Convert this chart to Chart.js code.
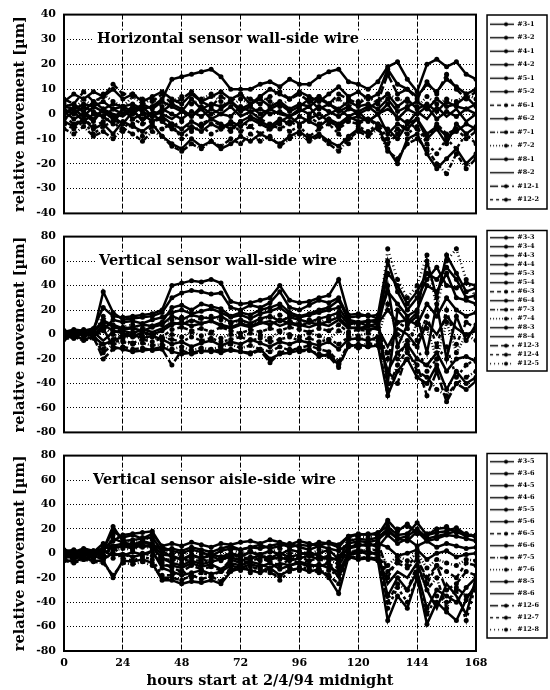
<!DOCTYPE html>
<html>
<head>
<meta charset="utf-8">
<script src="https://cdn.jsdelivr.net/npm/chart.js@4.4.1/dist/chart.umd.min.js"></script>
<style>
  html, body { margin: 0; padding: 0; background: #fff; }
  #wrap { position: relative; width: 550px; height: 690px; overflow: hidden; }
  canvas { position: absolute; left: 0; }
</style>
</head>
<body>
<div id="wrap">
  <canvas id="panelH" width="550" height="228" style="top:0px"></canvas>
  <canvas id="panelV" width="550" height="225" style="top:222px"></canvas>
  <canvas id="panelA" width="550" height="249" style="top:441px"></canvas>
</div>
<script>
// hours after 2/4/94 midnight (one reading every 4 h)
var hours = [0,4,8,12,16,20,24,28,32,36,40,44,48,52,56,60,64,68,72,76,80,84,88,92,96,100,104,108,112,116,120,124,128,132,136,140,144,148,152,156,160,164,168];

// ---- horizontal sensor, wall-side wire
var hLabels = ['#3-1','#3-2','#4-1','#4-2','#5-1','#5-2','#6-1','#6-2','#7-1','#7-2','#8-1','#8-2','#12-1','#12-2'];
var h3_1 = [3,2,4,3,5,2,3,4,2,3,6,14,15,16,17,18,15,10,10,10,12,13,11,14,12,12,15,17,18,13,12,10,13,19,21,14,9,20,22,19,21,16,14];
var h3_2 = [0,2,-1,3,1,-2,2,0,3,-1,1,4,2,-1,3,0,2,5,1,3,0,2,4,1,3,6,2,4,1,3,0,2,5,8,3,6,2,4,1,5,3,2,4];
var h4_1 = [-3,-5,-2,-6,-4,-8,-3,-5,-7,-4,-9,-12,-14,-10,-13,-11,-14,-12,-9,-11,-8,-10,-12,-9,-7,-10,-8,-11,-13,-9,-6,-8,-5,-14,-20,-10,-8,-16,-22,-18,-14,-20,-16];
var h4_2 = [5,8,6,9,7,10,6,8,5,7,9,6,4,8,5,7,9,6,8,4,7,10,8,6,9,7,5,8,11,7,9,6,8,18,12,10,7,12,9,14,11,8,10];
var h5_1 = [1,-2,0,-3,2,-1,-4,1,-2,0,-3,-6,-8,-5,-7,-4,-6,-3,-5,-2,-4,-6,-3,-1,-4,-2,0,-3,-5,-2,-1,-3,0,-8,-4,-6,-2,-10,-6,-12,-4,-8,-5];
var h5_2 = [3,4,1,5,2,4,3,1,4,2,5,3,1,6,2,4,3,5,2,4,6,3,5,2,4,3,6,4,2,5,3,4,2,6,1,3,5,2,6,3,4,7,3];
var h6_1 = [-1,-4,-2,-5,-3,-1,-6,-2,-4,-3,-2,-5,-3,-6,-4,-2,-5,-7,-3,-5,-2,-4,-6,-3,-5,-1,-4,-2,-6,-3,-4,-2,-5,-12,-8,-3,-6,-10,-4,-8,-6,-10,-7];
var h6_2 = [2,0,3,1,-1,2,0,3,1,-1,2,0,-2,1,-1,2,0,-1,3,1,2,0,1,-1,2,0,3,1,-1,2,1,3,0,4,-2,2,0,3,-2,1,-1,2,0];
var h7_1 = [-6,-8,-5,-9,-7,-10,-6,-8,-11,-7,-9,-13,-15,-12,-14,-11,-13,-10,-12,-8,-11,-9,-13,-10,-8,-11,-9,-12,-15,-10,-7,-9,-6,-15,-18,-12,-10,-14,-20,-24,-16,-22,-18];
var h7_2 = [4,2,6,3,8,5,3,7,4,6,3,5,7,4,6,8,5,3,6,4,7,5,3,6,8,5,7,4,6,3,5,7,4,8,6,5,3,7,4,6,5,8,6];
var h8_1 = [-2,1,-3,0,-1,-4,2,-2,0,-3,-1,-4,-6,-3,-5,-2,-4,-6,-3,-1,-3,-5,-2,-4,-1,-3,-5,-2,-4,-1,-3,-2,-4,-6,-10,-4,-2,-8,-5,-9,-7,-4,-6];
var h8_2 = [0,3,1,-2,2,0,-1,2,-3,1,0,-2,1,-1,2,-2,0,3,-1,1,-2,2,0,-1,1,3,-2,0,2,-1,1,-3,0,2,-1,-4,1,-2,3,-1,2,-3,0];
var h12_1 = [6,4,9,5,7,12,8,8,6,5,8,4,6,9,5,3,7,5,8,6,4,7,9,6,8,5,7,4,8,6,4,7,5,16,8,10,6,13,8,16,10,6,9];
var h12_2 = [-4,-6,-3,-8,-5,-3,-7,-4,-9,-5,-6,-4,-10,-7,-5,-8,-6,-4,-7,-5,-8,-6,-4,-7,-5,-9,-6,-4,-8,-12,-5,-7,-4,-10,-6,-8,-5,-12,-16,-10,-14,-8,-12];

// ---- vertical sensor, wall-side wire
var vLabels = ['#3-3','#3-4','#4-3','#4-4','#5-3','#5-4','#6-3','#6-4','#7-3','#7-4','#8-3','#8-4','#12-3','#12-4','#12-5'];
var v3_3 = [2,4,3,5,22,15,14,15,16,17,20,40,42,44,43,45,42,27,25,26,28,30,40,28,26,27,30,32,45,16,17,15,16,60,35,20,30,45,55,40,38,42,40];
var v3_4 = [-2,0,2,1,35,18,12,13,14,15,18,30,34,36,35,33,34,22,20,24,22,26,35,22,20,24,28,26,30,14,15,16,13,-40,20,10,18,60,30,65,50,35,38];
var v4_3 = [0,-3,1,-1,5,-10,-12,-14,-13,-12,-10,-14,-16,-15,-13,-14,-12,-13,-14,-15,-12,-20,-16,-15,-13,-12,-18,-16,-25,-10,-8,-10,-9,-50,-30,-20,-35,-40,-25,-45,-30,-40,-35];
var v4_4 = [3,1,4,2,10,8,5,6,8,7,10,22,24,20,25,23,21,15,18,16,20,22,25,18,15,17,20,22,28,12,10,11,12,35,25,15,20,40,35,50,30,28,25];
var v5_3 = [-3,-1,-4,-2,-8,-5,-2,0,-3,-1,-4,-8,-6,-10,-7,-5,-9,-6,-8,-4,-7,-10,-6,-8,-5,-7,-9,-6,-12,-4,-3,-5,-2,-30,-15,-8,-20,-25,-15,-30,-20,-18,-22];
var v5_4 = [1,3,0,2,12,6,4,5,3,6,8,15,12,16,14,13,15,10,12,9,13,15,11,14,12,10,13,15,18,8,10,7,9,20,10,12,8,25,15,30,20,15,18];
var v6_3 = [-1,2,-2,0,-12,-4,0,2,-1,1,-2,4,6,3,5,2,6,3,1,4,2,5,3,6,4,2,5,3,8,2,4,3,5,-20,10,5,-5,15,-10,20,-8,10,5];
var v6_4 = [2,0,3,-1,8,3,1,-2,2,0,3,8,10,7,9,11,8,6,9,7,10,8,12,9,7,10,8,11,14,6,5,7,6,40,-10,8,15,-15,25,-20,15,-5,8];
var v7_3 = [-4,-2,-5,-3,-15,-8,-6,-8,-7,-9,-8,-12,-10,-13,-11,-12,-10,-8,-11,-9,-12,-14,-10,-13,-11,-9,-12,-14,-22,-8,-10,-7,-9,-45,-25,-12,-30,-35,-45,-50,-40,-35,-30];
var v7_4 = [0,2,-1,1,6,0,-3,-1,-4,-2,-5,0,-2,2,-1,1,-3,0,-2,1,-1,-3,2,0,-2,1,-1,-4,3,0,-1,1,-2,25,0,-10,10,5,-20,10,-15,0,-5];
var v8_3 = [1,-1,2,0,4,12,10,11,9,12,14,18,20,17,19,21,18,14,16,13,17,19,22,16,14,16,18,20,22,10,9,11,10,50,40,25,35,50,45,55,45,30,32];
var v8_4 = [-2,1,-1,2,-5,2,3,1,4,2,5,10,8,12,9,11,7,5,8,6,9,11,7,10,8,6,9,7,12,5,6,4,5,-10,5,0,-10,10,0,15,5,0,3];
var v12_3 = [3,0,2,-2,-20,-12,-10,-12,-11,-13,-12,-25,-13,-16,-14,-13,-15,-12,-14,-16,-13,-23,-15,-12,-14,-13,-16,-18,-27,-9,-11,-10,-8,-30,-40,-15,-25,-50,-30,-55,-40,-45,-38];
var v12_4 = [-1,-3,0,-2,3,-6,-5,-7,-4,-6,-3,-4,-6,-2,-5,-3,-6,-4,-2,-5,-3,-6,-4,-2,-5,-3,-6,-4,-8,-2,-4,-3,-5,-15,-20,-5,-10,-30,-20,-10,-35,-25,-20];
var v12_5 = [2,-2,1,3,15,3,6,8,5,7,9,12,14,11,13,15,12,9,11,8,12,14,16,11,9,12,10,13,16,9,8,10,7,70,45,30,40,65,20,60,70,45,30];

// ---- vertical sensor, aisle-side wire
var aLabels = ['#3-5','#3-6','#4-5','#4-6','#5-5','#5-6','#6-5','#6-6','#7-5','#7-6','#8-5','#8-6','#12-6','#12-7','#12-8'];
var a3_5 = [-2,0,-3,1,3,10,15,16,17,18,5,2,0,3,1,-2,2,4,3,5,4,6,8,5,7,6,9,8,5,14,15,16,15,27,18,24,16,15,20,21,17,16,13];
var a3_6 = [0,-2,1,-1,3,22,10,11,12,13,2,-3,-5,-2,-4,-1,-3,0,-2,1,-1,2,-1,3,1,-2,0,3,-5,10,12,11,13,20,12,10,18,10,12,15,14,12,10];
var a4_5 = [-5,-7,-4,-6,-6,-20,-6,-7,-5,-8,-22,-22,-25,-23,-24,-22,-25,-15,-12,-14,-16,-12,-18,-14,-12,-15,-13,-20,-33,-3,-5,-4,-6,-55,-35,-45,-20,-58,-40,-48,-55,-38,-25];
var a4_6 = [2,0,3,1,8,5,6,4,7,5,-4,-8,-10,-6,-9,-7,-5,-3,-6,-4,-2,-5,-3,-6,-4,-2,-5,-3,-6,5,7,6,8,5,-2,0,3,-5,0,2,-3,-1,0];
var a5_5 = [-3,-1,-4,-2,-5,0,-2,1,-1,2,-12,-15,-18,-16,-14,-17,-15,-10,-12,-9,-11,-8,-13,-10,-8,-11,-9,-12,-15,0,2,-1,1,-35,-20,-30,-15,-45,-30,-35,-40,-28,-20];
var a5_6 = [1,3,0,2,2,12,9,7,10,8,2,4,2,5,3,1,4,6,3,5,7,4,6,8,5,3,6,4,2,8,10,9,11,18,12,14,20,12,14,16,18,14,15];
var a6_5 = [-1,-3,0,-2,-2,-4,-1,-3,0,-2,-4,-6,-3,-8,-5,-7,-4,-2,-5,-3,-6,-4,-2,-5,-3,-6,-4,-2,-10,3,1,4,2,-20,-5,-10,-2,-25,-10,-15,-20,-8,-10];
var a6_6 = [-4,-2,-5,-3,5,4,6,8,5,7,-1,-2,-5,-1,-4,-2,-6,-1,-3,1,-2,-4,0,-3,-1,1,-2,-5,-4,4,6,8,5,15,8,12,6,10,5,8,6,4,5];
var a7_5 = [-6,-8,-5,-7,-8,-18,-8,-9,-7,-10,-20,-20,-22,-18,-21,-19,-23,-12,-14,-11,-13,-16,-19,-12,-14,-10,-13,-18,-25,-2,-4,-3,-5,-40,-25,-30,-10,-30,-20,-45,-28,-35,-30];
var a7_6 = [0,2,-1,1,-4,2,4,3,6,4,-6,-5,-8,-4,-7,-5,-3,-6,-2,-4,-1,-3,-5,-2,-4,-1,-3,-6,-8,1,3,2,4,-10,-2,-6,0,-12,-5,-8,-10,-5,-6];
var a8_5 = [3,1,4,2,4,18,13,15,12,16,6,8,6,9,7,5,8,7,9,10,8,11,9,7,10,8,6,9,7,14,16,15,17,22,15,16,25,15,17,18,21,15,14];
var a8_6 = [-2,-4,-1,-3,2,-2,0,-3,-1,1,-10,-10,-12,-8,-11,-9,-13,-8,-10,-7,-9,-12,-8,-10,-7,-9,-11,-8,-20,-1,0,2,-2,-25,-15,-20,-8,-30,-45,-25,-35,-50,-20];
var a12_6 = [2,0,3,-1,-1,6,8,5,9,7,-8,-12,-15,-10,-13,-11,-14,-5,-8,-6,-4,-7,-10,-5,-8,-6,-4,-9,-12,6,8,7,9,-15,-8,-12,-5,-20,-10,-30,-25,-15,-18];
var a12_7 = [-3,-5,-2,-4,-4,6,-4,-6,-3,-5,-18,-18,-14,-20,-16,-18,-15,-14,-10,-16,-12,-14,-22,-15,-11,-13,-16,-14,-18,-4,-2,-5,-3,-45,-28,-40,-20,-50,-35,-40,-30,-55,-25];
var a12_8 = [1,-1,2,0,2,15,12,9,13,11,3,0,-2,2,-1,1,-3,3,0,2,-1,1,4,0,2,-1,3,1,-2,12,14,13,15,25,20,22,18,16,20,22,18,16,15];

var serif = '"DejaVu Serif", "Liberation Serif", serif';

// line pattern of each legend slot (same order in every panel)
var lineStyles = [
  { dash: [], dot: true },
  { dash: [], dot: true },
  { dash: [], dot: true },
  { dash: [], dot: true },
  { dash: [], dot: true },
  { dash: [], dot: true },
  { dash: [4, 3], dot: true },
  { dash: [], dot: true },
  { dash: [5, 2, 1, 2], dot: true },
  { dash: [1, 2], dot: true },
  { dash: [], dot: true },
  { dash: [], dot: false },
  { dash: [8, 3], dot: true },
  { dash: [3, 3], dot: true },
  { dash: [1, 3], dot: true }
];

function legendSample(st) {
  var c = document.createElement('canvas');
  c.width = 24;
  c.height = 7;
  var g = c.getContext('2d');
  g.strokeStyle = '#000';
  g.lineWidth = 1.4;
  g.setLineDash(st.dash);
  g.beginPath();
  g.moveTo(0, 3.5);
  g.lineTo(24, 3.5);
  g.stroke();
  if (st.dot) {
    g.fillStyle = '#000';
    g.beginPath();
    g.arc(16, 3.5, 2, 0, Math.PI * 2);
    g.fill();
  }
  return c;
}

// frame round the plot, caption on a grid line, box round the legend
var framePlugin = {
  id: 'frame',
  beforeDatasetsDraw: function (chart, args, opts) {
    var ctx = chart.ctx, a = chart.chartArea;
    var y = chart.scales.y.getPixelForValue(opts.captionAt);
    var x = a.left + opts.captionDx;
    ctx.save();
    ctx.font = 'bold 14.5px ' + serif;
    var w = ctx.measureText(opts.caption).width;
    ctx.fillStyle = '#fff';
    ctx.fillRect(x - 3, y - 9, w + 6, 18);
    ctx.fillStyle = '#000';
    ctx.textBaseline = 'middle';
    ctx.fillText(opts.caption, x, y);
    ctx.restore();
  },
  afterDraw: function (chart, args, opts) {
    var ctx = chart.ctx, a = chart.chartArea;
    ctx.save();
    ctx.strokeStyle = '#000';
    ctx.lineWidth = 2;
    ctx.strokeRect(a.left, a.top, a.right - a.left, a.bottom - a.top);
    var lg = chart.legend, hb = lg.legendHitBoxes;
    var first = hb[0], last = hb[hb.length - 1];
    var x0 = first.left - 3, y0 = first.top - opts.boxPad;
    var y1 = last.top + last.height + opts.boxPad;
    ctx.lineWidth = 1.5;
    ctx.strokeRect(x0, y0, lg.right - 2 - x0, y1 - y0);
    ctx.restore();
  }
};

function makePanel(id, cfg) {
  var datasets = cfg.series.map(function (vals, i) {
    var st = lineStyles[i];
    return {
      label: cfg.labels[i],
      data: hours.map(function (h, k) { return { x: h, y: vals[k] }; }),
      borderColor: '#000',
      backgroundColor: '#000',
      borderWidth: 2.5,
      borderDash: st.dash,
      pointRadius: st.dot ? 2.5 : 0,
      pointBorderWidth: 0,
      tension: 0
    };
  });

  return new Chart(document.getElementById(id), {
    type: 'line',
    data: { datasets: datasets },
    plugins: [framePlugin],
    options: {
      responsive: false,
      animation: false,
      devicePixelRatio: 1,
      layout: { padding: { top: cfg.padTop, bottom: cfg.padBottom, left: 0, right: 1 } },
      plugins: {
        tooltip: { enabled: false },
        legend: {
          position: 'right',
          align: 'start',
          labels: {
            usePointStyle: true,
            pointStyleWidth: 24,
            padding: cfg.legendGap,
            color: '#000',
            font: { family: serif, size: 6.5, weight: 'bold' },
            generateLabels: function (chart) {
              return chart.data.datasets.map(function (ds, i) {
                return {
                  text: ds.label,
                  pointStyle: legendSample(lineStyles[i]),
                  datasetIndex: i,
                  hidden: false,
                  lineWidth: 0,
                  fillStyle: '#000',
                  strokeStyle: '#000',
                  fontColor: '#000'
                };
              });
            }
          }
        },
        frame: { caption: cfg.caption, captionAt: cfg.captionAt, captionDx: cfg.captionDx, boxPad: cfg.boxPad }
      },
      scales: {
        x: {
          type: 'linear',
          min: 0,
          max: 168,
          ticks: {
            stepSize: 24,
            display: cfg.showX,
            color: '#000',
            padding: 6,
            font: { family: serif, size: 11, weight: 'bold' }
          },
          grid: { color: '#000', lineWidth: 1, drawTicks: false },
          border: { display: false, dash: [5, 2] },
          title: {
            display: cfg.showX,
            text: 'hours start at 2/4/94 midnight',
            color: '#000',
            padding: { top: 3, bottom: 0 },
            font: { family: serif, size: 14.5, weight: 'bold' }
          },
          afterFit: function (s) { if (cfg.showX) s.height = 39; }
        },
        y: {
          min: cfg.yMin,
          max: cfg.yMax,
          ticks: {
            stepSize: cfg.yStep,
            color: '#000',
            padding: 8,
            font: { family: serif, size: 11, weight: 'bold' }
          },
          grid: { color: '#000', lineWidth: 1, drawTicks: false },
          border: { display: false, dash: [1, 2] },
          title: {
            display: true,
            text: 'relative movement [µm]',
            color: '#000',
            padding: { top: 12, bottom: 0 },
            font: { family: serif, size: 14.5, weight: 'bold' }
          },
          afterFit: function (s) { s.width = 64; }
        },
        gap: {
          type: 'linear',
          axis: 'y',
          position: 'right',
          min: 0,
          max: 1,
          grid: { display: false },
          ticks: { display: false },
          border: { display: false },
          afterFit: function (s) {
            s.width = Math.max(0, 550 - 1 - s.chart.legend.width - 476);
          }
        }
      }
    }
  });
}

makePanel('panelH', {
  labels: hLabels,
  series: [h3_1, h3_2, h4_1, h4_2, h5_1, h5_2, h6_1, h6_2, h7_1, h7_2, h8_1, h8_2, h12_1, h12_2],
  yMin: -40, yMax: 40, yStep: 10,
  padTop: 14, padBottom: 10,
  showX: false,
  legendGap: 7, boxPad: 6,
  caption: 'Horizontal sensor wall-side wire', captionAt: 30, captionDx: 33
});

makePanel('panelV', {
  labels: vLabels,
  series: [v3_3, v3_4, v4_3, v4_4, v5_3, v5_4, v6_3, v6_4, v7_3, v7_4, v8_3, v8_4, v12_3, v12_4, v12_5],
  yMin: -80, yMax: 80, yStep: 20,
  padTop: 10, padBottom: 10,
  showX: false,
  legendGap: 2.5, boxPad: 4,
  caption: 'Vertical sensor wall-side wire', captionAt: 60, captionDx: 35
});

makePanel('panelA', {
  labels: aLabels,
  series: [a3_5, a3_6, a4_5, a4_6, a5_5, a5_6, a6_5, a6_6, a7_5, a7_6, a8_5, a8_6, a12_6, a12_7, a12_8],
  yMin: -80, yMax: 80, yStep: 20,
  padTop: 12, padBottom: 0,
  showX: true,
  legendGap: 5.5, boxPad: 5,
  caption: 'Vertical sensor aisle-side wire', captionAt: 60, captionDx: 29
});
</script>
</body>
</html>
